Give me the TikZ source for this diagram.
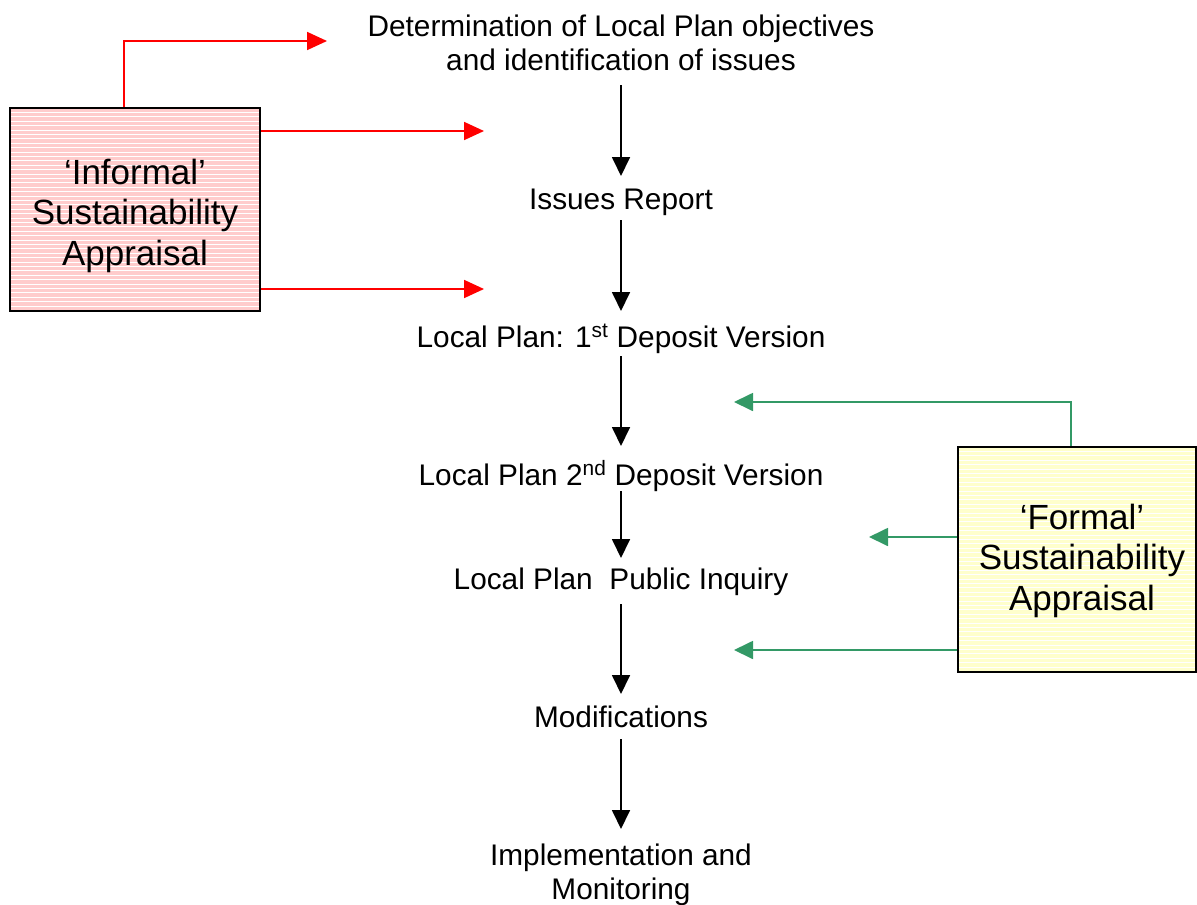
\documentclass[tikz,border=0pt]{standalone}
\usepackage{fontspec}
\setmainfont{Liberation Sans}
\usetikzlibrary{arrows.meta}
\definecolor{arrred}{RGB}{255,0,0}
\definecolor{arrgreen}{RGB}{51,153,102}
\definecolor{pinkfill}{RGB}{255,204,204}
\definecolor{yellowfill}{RGB}{255,255,204}
\begin{document}
\begin{tikzpicture}[x=1pt,y=-1pt,
  flowtext/.style={font=\fontsize{29.8}{34}\selectfont, align=center, inner sep=0pt, anchor=base},
  flow/.style={draw=black, line width=1.8pt, -{Triangle[length=19pt,width=18pt]}},
  redarr/.style={draw=arrred, line width=1.8pt, -{Triangle[length=20pt,width=18pt]}},
  greenarr/.style={draw=arrgreen, line width=1.8pt, -{Triangle[length=19pt,width=18pt]}},
  stripes/.style={path picture={\foreach \k in {1,...,60}{\draw[white,line width=0.7pt] ([yshift=-\k*4.4pt]path picture bounding box.north west) -- ([yshift=-\k*4.4pt]path picture bounding box.north east);}}},
  sabox/.style={draw=black, line width=1.8pt, inner sep=0pt, stripes},
  satext/.style={font=\fontsize{35}{40.5}\selectfont, align=center, inner sep=0pt, anchor=base},
]
\useasboundingbox (0,0) rectangle (1197,905);

% side boxes
\node[sabox, fill=pinkfill, minimum width=250pt, minimum height=203pt] (inf) at (135,209.5) {};
\node[satext] (inft) at (135,265) {‘Informal’\\Sustainability\\Appraisal};
\node[sabox, fill=yellowfill, minimum width=238pt, minimum height=225pt] (for) at (1077,559.5) {};
\node[satext] (fort) at (1082,610) {‘Formal’\\Sustainability\\Appraisal};

% flow nodes (base = baseline of last line)
\node[flowtext] (det) at (621,70) {Determination of Local Plan objectives\\and identification of issues};
\node[flowtext] (iss) at (621,209) {Issues Report};
\node[flowtext] (dep1) at (621,347) {Local Plan: 1\textsuperscript{st} Deposit Version};
\node[flowtext] (dep2) at (621,485) {Local Plan 2\textsuperscript{nd} Deposit Version};
\node[flowtext] (inq) at (621,589) {Local Plan\ \ Public Inquiry};
\node[flowtext] (mod) at (621,727) {Modifications};
\node[flowtext] (impl) at (621,899) {Implementation and\\Monitoring};

% flow arrows
\draw[flow] ([yshift=-15pt]det.base) -- ([yshift=33pt]iss.base);
\draw[flow] ([yshift=-11pt]iss.base) -- ([yshift=36pt]dep1.base);
\draw[flow] ([yshift=-9pt]dep1.base) -- ([yshift=39pt]dep2.base);
\draw[flow] ([yshift=-6pt]dep2.base) -- ([yshift=31pt]inq.base);
\draw[flow] ([yshift=-15pt]inq.base) -- ([yshift=33pt]mod.base);
\draw[flow] ([yshift=-12pt]mod.base) -- ([yshift=70pt]impl.base);

% red arrows
\coordinate (r1) at (327,41);
\coordinate (r2) at (484,131);
\coordinate (r3) at (484,289);
\draw[redarr] ([xshift=-11.3pt]inf.north) |- (r1);
\draw[redarr] (inf.east |- r2) -- (r2);
\draw[redarr] (inf.east |- r3) -- (r3);

% green arrows
\coordinate (g1) at (734,402);
\coordinate (g2) at (869,537);
\coordinate (g3) at (734,650);
\draw[greenarr] ([xshift=-6pt]for.north) |- (g1);
\draw[greenarr] (for.west |- g2) -- (g2);
\draw[greenarr] (for.west |- g3) -- (g3);
\end{tikzpicture}
\end{document}
